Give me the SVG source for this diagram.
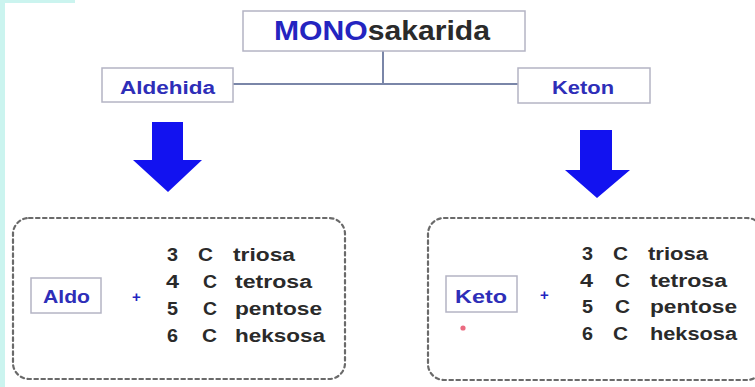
<svg xmlns="http://www.w3.org/2000/svg" width="755" height="387" viewBox="0 0 755 387">
<defs>
<style>
.box{fill:#ffffff;stroke:#b4b4c4;stroke-width:1.5}
.lbl{font-family:"Liberation Sans",Arial,sans-serif;font-weight:bold;fill:#2e2eb8}
.txt{font-family:"Liberation Sans",Arial,sans-serif;font-weight:bold;fill:#2a2a2a;font-size:18px}
.dash{fill:none;stroke:#6a6a6a;stroke-width:2.2;stroke-dasharray:3.5 3.5;stroke-linecap:round}
.arrow{fill:#1212f0}
.conn{fill:none;stroke:#7a86a8;stroke-width:2}
.plus{font-family:"Liberation Sans",Arial,sans-serif;font-weight:bold;fill:#2424c0;font-size:15px}
</style>
</defs>
<rect x="0" y="0" width="755" height="387" fill="#ffffff"/>
<rect x="0" y="0" width="5" height="387" fill="#cbf4ef"/>
<rect x="0" y="0" width="75" height="3" fill="#cbf4ef"/>

<g id="connectors">
<polyline class="conn" points="383,51 383,84"/>
<polyline class="conn" points="233,84 518,84"/>
</g>

<g id="mono">
<rect class="box" x="243" y="11" width="282" height="40"/>
<text x="274" y="40" font-size="28" font-family="Liberation Sans, Arial, sans-serif" font-weight="bold" textLength="216" lengthAdjust="spacingAndGlyphs"><tspan fill="#2424c0">MONO</tspan><tspan fill="#2a2a2a">sakarida</tspan></text>
</g>

<g id="aldehida">
<rect class="box" x="102" y="68" width="131" height="34"/>
<text class="lbl" x="120" y="94" font-size="18" textLength="95" lengthAdjust="spacingAndGlyphs">Aldehida</text>
</g>

<g id="keton">
<rect class="box" x="518" y="68" width="132" height="35"/>
<text class="lbl" x="552" y="94" font-size="18" textLength="62" lengthAdjust="spacingAndGlyphs">Keton</text>
</g>

<g id="arrow-left">
<polygon class="arrow" points="152,122 183,122 183,160 202,160 168,192 133,160 152,160"/>
</g>
<g id="arrow-right">
<polygon class="arrow" points="580,130 612,130 612,170 630,170 597,198 565,170 580,170"/>
</g>

<g id="aldo-group">
<rect class="dash" x="13" y="218" width="332" height="161" rx="16" ry="16"/>
<rect class="box" x="31" y="278" width="70" height="35"/>
<text class="lbl" x="43" y="303" font-size="18" textLength="47" lengthAdjust="spacingAndGlyphs">Aldo</text>
<text class="plus" x="132" y="302">+</text>
<text class="txt" x="167" y="261" textLength="11" lengthAdjust="spacingAndGlyphs">3</text>
<text class="txt" x="198" y="261" textLength="15" lengthAdjust="spacingAndGlyphs">C</text>
<text class="txt" x="233" y="261" textLength="62" lengthAdjust="spacingAndGlyphs">triosa</text>
<text class="txt" x="166" y="288" textLength="13" lengthAdjust="spacingAndGlyphs">4</text>
<text class="txt" x="203" y="288" textLength="14" lengthAdjust="spacingAndGlyphs">C</text>
<text class="txt" x="235" y="288" textLength="77" lengthAdjust="spacingAndGlyphs">tetrosa</text>
<text class="txt" x="167" y="315" textLength="11" lengthAdjust="spacingAndGlyphs">5</text>
<text class="txt" x="203" y="315" textLength="14" lengthAdjust="spacingAndGlyphs">C</text>
<text class="txt" x="235" y="315" textLength="87" lengthAdjust="spacingAndGlyphs">pentose</text>
<text class="txt" x="167" y="342" textLength="11" lengthAdjust="spacingAndGlyphs">6</text>
<text class="txt" x="202" y="342" textLength="15" lengthAdjust="spacingAndGlyphs">C</text>
<text class="txt" x="235" y="342" textLength="90" lengthAdjust="spacingAndGlyphs">heksosa</text>
</g>

<g id="keto-group">
<rect class="dash" x="428" y="218" width="335" height="162" rx="16" ry="16"/>
<rect class="box" x="446" y="276" width="71" height="36"/>
<text class="lbl" x="455" y="303" font-size="18" textLength="52" lengthAdjust="spacingAndGlyphs">Keto</text>
<text class="plus" x="540" y="300">+</text>
<circle cx="463" cy="328" r="2.6" fill="#e8506a" opacity="0.85"/>
<text class="txt" x="582" y="260" textLength="11" lengthAdjust="spacingAndGlyphs">3</text>
<text class="txt" x="613" y="260" textLength="15" lengthAdjust="spacingAndGlyphs">C</text>
<text class="txt" x="648" y="260" textLength="60" lengthAdjust="spacingAndGlyphs">triosa</text>
<text class="txt" x="580" y="287" textLength="13" lengthAdjust="spacingAndGlyphs">4</text>
<text class="txt" x="615" y="287" textLength="15" lengthAdjust="spacingAndGlyphs">C</text>
<text class="txt" x="650" y="287" textLength="77" lengthAdjust="spacingAndGlyphs">tetrosa</text>
<text class="txt" x="582" y="313" textLength="11" lengthAdjust="spacingAndGlyphs">5</text>
<text class="txt" x="615" y="313" textLength="15" lengthAdjust="spacingAndGlyphs">C</text>
<text class="txt" x="650" y="313" textLength="87" lengthAdjust="spacingAndGlyphs">pentose</text>
<text class="txt" x="582" y="340" textLength="11" lengthAdjust="spacingAndGlyphs">6</text>
<text class="txt" x="613" y="340" textLength="15" lengthAdjust="spacingAndGlyphs">C</text>
<text class="txt" x="650" y="340" textLength="87" lengthAdjust="spacingAndGlyphs">heksosa</text>
</g>
</svg>
